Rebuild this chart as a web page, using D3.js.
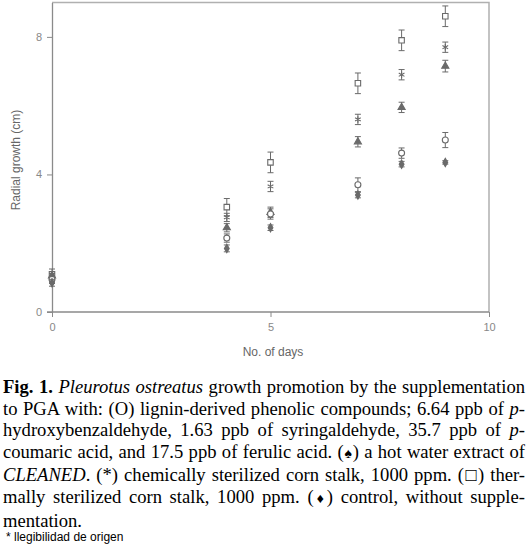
<!DOCTYPE html>
<html>
<head>
<meta charset="utf-8">
<script src="https://cdn.jsdelivr.net/npm/d3@7"></script>
<style>
  body { margin: 0; background: #fff; width: 527px; height: 552px; overflow: hidden; }
  #chart { position: absolute; left: 0; top: 0; }
  .caption { position: absolute; left: 3px; top: 376px; width: 522px;
    font-family: "Liberation Serif", "Times New Roman", serif; font-size: 18.6px; line-height: 21.6px; color: #000; }
  .caption div { white-space: nowrap; text-align: justify; text-align-last: justify; }
  .caption div.last { text-align-last: left; }
  .note { position: absolute; left: 6px; top: 530px; font-family: "Liberation Sans", Arial, sans-serif; font-size: 12px; color: #000; }
</style>
</head>
<body>
<div id="chart"></div>
<div class="caption">
  <div><b>Fig. 1.</b> <i>Pleurotus ostreatus</i> growth promotion by the supplementation</div>
  <div>to PGA with: (O) lignin-derived phenolic compounds; 6.64 ppb of <i>p</i>-</div>
  <div>hydroxybenzaldehyde, 1.63 ppb of syringaldehyde, 35.7 ppb of <i>p</i>-</div>
  <div>coumaric acid, and 17.5 ppb of ferulic acid. (<span style="font-size:14px">&#9824;</span>) a hot water extract of</div>
  <div><i>CLEANED</i>. (*) chemically sterilized corn stalk, 1000 ppm. (&#9633;) ther-</div>
  <div>mally sterilized corn stalk, 1000 ppm. (<span style="font-size:14px">&#9830;</span>) control, without supple-</div>
  <div class="last">mentation.</div>
</div>
<div class="note">* llegibilidad de origen</div>
<script>
// days of measurement
const days = [0, 4, 5, 7, 8, 9];

// radial growth (cm) per treatment
const thermalStalk = [1.1, 3.05, 4.35, 6.65, 7.9, 8.6];
const thermalErr = [0.15, 0.25, 0.3, 0.3, 0.3, 0.3];
const chemicalStalk = [1.0, 2.75, 3.65, 5.6, 6.9, 7.7];
const chemicalErr = [0.12, 0.12, 0.15, 0.15, 0.15, 0.15];
const hotWater = [1.05, 2.45, 2.9, 4.95, 5.95, 7.15];
const hotWaterErr = [0.12, 0.12, 0.15, 0.15, 0.15, 0.17];
const phenolics = [0.95, 2.15, 2.85, 3.7, 4.62, 5.0];
const phenolicsErr = [0.12, 0.12, 0.15, 0.2, 0.15, 0.22];
const control = [0.85, 1.85, 2.45, 3.4, 4.3, 4.35];
const controlErr = [0.1, 0.1, 0.08, 0.08, 0.08, 0.05];

const xTicks = [0, 5, 10];
const yTicks = [0, 4, 8];

const width = 527, height = 365;
const svg = d3.select("#chart").append("svg")
  .attr("width", width)
  .attr("height", height);

const x = d3.scaleLinear().domain([0, 10]).range([52, 489]);
const y = d3.scaleLinear().domain([0, 9]).range([312, 2.5]);

const axisColor = "#8a8a8a";
const markColor = "#6a6a6a";

// frame (top and right)
svg.append("path")
  .attr("d", "M" + x(0) + "," + y(9) + "H" + x(10) + "V" + y(0))
  .attr("fill", "none")
  .attr("stroke", "#b0b0b0")
  .attr("stroke-width", 1.5);

const xAxis = svg.append("g")
  .attr("transform", "translate(0," + y(0) + ")")
  .call(d3.axisBottom(x).tickValues(xTicks).tickSize(5).tickPadding(6).tickSizeOuter(0));
const yAxis = svg.append("g")
  .attr("transform", "translate(" + x(0) + ",0)")
  .call(d3.axisLeft(y).tickValues(yTicks).tickSize(5).tickPadding(5).tickSizeOuter(0));

[xAxis, yAxis].forEach(function(g) {
  g.select(".domain").attr("stroke", axisColor).attr("stroke-width", 1.3);
  g.selectAll(".tick line").attr("stroke", axisColor);
  g.selectAll(".tick text")
    .attr("fill", "#888")
    .style("font-family", "Liberation Sans, Arial, sans-serif")
    .style("font-size", "11px");
});
// extend x axis line a little left of the y axis
xAxis.select(".domain").attr("d", "M" + (x(0) - 5) + ",0H" + x(10));

svg.append("text")
  .attr("x", 273)
  .attr("y", 356)
  .attr("text-anchor", "middle")
  .attr("fill", "#666")
  .style("font-family", "Liberation Sans, Arial, sans-serif")
  .style("font-size", "12px")
  .text("No. of days");

svg.append("text")
  .attr("transform", "translate(20,160)rotate(-90)")
  .attr("text-anchor", "middle")
  .attr("fill", "#666")
  .style("font-family", "Liberation Sans, Arial, sans-serif")
  .style("font-size", "12px")
  .text("Radial growth (cm)");

const series = [
  {values: thermalStalk, err: thermalErr, symbol: d3.symbolSquare, size: 30, filled: false},
  {values: chemicalStalk, err: chemicalErr, symbol: d3.symbolAsterisk, size: 30, filled: false},
  {values: hotWater, err: hotWaterErr, symbol: d3.symbolTriangle, size: 22, filled: true},
  {values: phenolics, err: phenolicsErr, symbol: d3.symbolCircle, size: 28, filled: false},
  {values: control, err: controlErr, symbol: d3.symbolDiamond, size: 20, filled: true}
];

series.forEach(function(s) {
  const pts = days.map(function(d, i) { return {day: d, v: s.values[i], e: s.err[i]}; });
  const g = svg.append("g");

  g.selectAll("path.err")
    .data(pts)
    .enter()
    .append("path")
      .attr("class", "err")
      .attr("d", function(d) {
        const cx = x(d.day), y0 = y(d.v - d.e), y1 = y(d.v + d.e);
        return "M" + cx + "," + y0 + "V" + y1 +
          "M" + (cx - 3) + "," + y0 + "H" + (cx + 3) +
          "M" + (cx - 3) + "," + y1 + "H" + (cx + 3);
      })
      .attr("stroke", markColor)
      .attr("stroke-width", 1)
      .attr("fill", "none");

  g.selectAll("path.mark")
    .data(pts)
    .enter()
    .append("path")
      .attr("class", "mark")
      .attr("transform", function(d) { return "translate(" + x(d.day) + "," + y(d.v) + ")"; })
      .attr("d", d3.symbol().type(s.symbol).size(s.size))
      .attr("fill", s.filled ? markColor : "#fff")
      .attr("stroke", markColor)
      .attr("stroke-width", 1.1);
});
</script>
</body>
</html>
